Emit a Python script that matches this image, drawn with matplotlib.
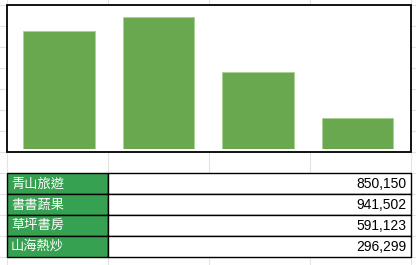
import matplotlib
matplotlib.use("Agg")
import matplotlib.pyplot as plt
from matplotlib.patches import Rectangle

# ---- data ----
categories = ["青山旅遊", "書書蔬果", "草坪書房", "山海熱炒"]
values = [850150, 941502, 591123, 296299]
y_min, y_max = 100000, 1000000

W, H = 416, 265
fig = plt.figure(figsize=(W / 100, H / 100), dpi=100)

# background sheet in pixel coordinates
bg = fig.add_axes([0, 0, 1, 1])
bg.set_xlim(0, W)
bg.set_ylim(H, 0)
bg.axis("off")

grid_c = "#e3e3e3"
for x in [6.5, 107.5, 208.5, 309.5, 410.5]:
    bg.plot([x, x], [0, H], color=grid_c, lw=0.8, zorder=1)
for y in [5, 26, 47, 68, 89, 110, 131, 152, 173, 194, 215, 236, 257]:
    bg.plot([0, W], [y, y], color=grid_c, lw=0.8, zorder=1)

# chart box
bg.add_patch(Rectangle((6.5, 5), 404, 147, facecolor="white",
                       edgecolor="black", lw=1.3, zorder=2))

# table
row_top, row_h = 173.3, 20.85
left, mid, right = 7, 107.5, 410.5
green_cell = "#37A152"
for i, (name, val) in enumerate(zip(categories, values)):
    y0 = row_top + i * row_h
    bg.add_patch(Rectangle((left, y0), mid - left, row_h, facecolor=green_cell,
                           edgecolor="black", lw=1.0, zorder=3))
    bg.add_patch(Rectangle((mid, y0), right - mid, row_h, facecolor="white",
                           edgecolor="black", lw=1.0, zorder=3))
    bg.text(left + 4, y0 + row_h / 2 + 0.5, name, color="white", fontsize=9.5,
            family=["Noto Sans CJK TC", "DejaVu Sans"], ha="left", va="center", zorder=4)
    bg.text(right - 4, y0 + row_h / 2 + 0.5, f"{val:,}", color="black", fontsize=10,
            family=["Liberation Sans", "DejaVu Sans"], ha="right", va="center", zorder=4)

# bar chart axes
px_l, px_r, px_t, px_b = 9.1, 407.5, 7.9, 149.3
ax = fig.add_axes([px_l / W, 1 - px_b / H, (px_r - px_l) / W, (px_b - px_t) / H])
ax.set_zorder(5)
ax.patch.set_alpha(0)
ax.bar(range(len(categories)), values, width=0.715, color="#6AA84F",
       edgecolor="#a9d295", linewidth=0.6)
ax.set_xlim(-0.5, len(categories) - 0.5)
ax.set_ylim(y_min, y_max)
ax.set_xticks([])
ax.set_yticks([])
for s in ax.spines.values():
    s.set_visible(False)

fig.savefig("out.png", dpi=100)
